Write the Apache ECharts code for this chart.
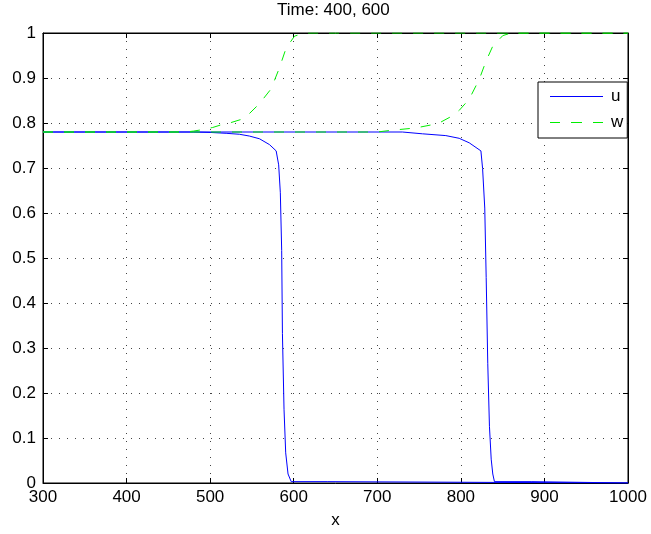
<!DOCTYPE html>
<html>
<head>
<meta charset="utf-8">
<script src="https://cdn.jsdelivr.net/npm/echarts@6/dist/echarts.min.js"></script>
<style>html,body{margin:0;padding:0;background:#fff}#c{width:651px;height:534px}</style>
</head>
<body>
<div id="c"></div>
<script>
var titleText = 'Time: 400, 600';
var xName = 'x';
var xTicks = { min: 300, max: 1000, interval: 100 };
var yTicks = { min: 0, max: 1, interval: 0.1 };

// u at t=400
var xU1 = [300, 480, 500, 520, 535, 547, 559, 571, 579, 582, 584, 585.6, 586.5, 588.4, 590.4, 593.2, 597, 640, 641, 1000];
var yU1 = [0.78, 0.78, 0.779, 0.777, 0.775, 0.771, 0.765, 0.752, 0.738, 0.707, 0.645, 0.517, 0.332, 0.164, 0.067, 0.02, 0.003, 0.003, 0, 0];
// w at t=400
var xW1 = [300, 470, 480, 490, 503, 515, 525, 539, 547, 559, 573, 583, 591, 601, 613, 1000];
var yW1 = [0.78, 0.78, 0.782, 0.785, 0.79, 0.797, 0.801, 0.809, 0.821, 0.843, 0.876, 0.923, 0.967, 0.993, 1, 1];
// u at t=600
var xU2 = [300, 730, 754, 782, 798, 810, 824, 826, 828.6, 830.3, 832.2, 834.2, 836.3, 838.2, 840.2, 885, 886, 1000];
var yU2 = [0.78, 0.78, 0.776, 0.772, 0.766, 0.756, 0.738, 0.699, 0.611, 0.457, 0.265, 0.126, 0.053, 0.02, 0.003, 0.003, 0, 0];
// w at t=600
var xW2 = [300, 700, 718, 746, 768, 776, 790, 798, 810, 822, 830, 838, 850, 860, 1000];
var yW2 = [0.78, 0.78, 0.784, 0.789, 0.797, 0.802, 0.816, 0.828, 0.853, 0.897, 0.937, 0.97, 0.994, 1, 1];

function pairs(xs, ys) { return xs.map(function (x, i) { return [x, ys[i]]; }); }

var FONT = 'Liberation Sans, Arial, Helvetica, sans-serif';
var chart = echarts.init(document.getElementById('c'), null, { renderer: 'canvas' });

var gridLine = { show: true, lineStyle: { color: '#444', width: 1, type: [1, 7] } };
function baseAxis(extra) {
  var a = {
    type: 'value',
    axisLine: { show: true, onZero: false, lineStyle: { color: '#000', width: 1 } },
    axisTick: { show: true, inside: true, length: 5, lineStyle: { color: '#000' } },
    axisLabel: { show: true, color: '#000', fontSize: 17, fontFamily: FONT },
    splitLine: { show: false }
  };
  for (var k in extra) a[k] = extra[k];
  return a;
}

var uStyle = { color: '#0000ff', width: 1, type: 'solid' };
var wStyle = { color: '#00ee00', width: 1, type: [10, 11] };
var solidIcon = 'path://M0,0h53v1h-53z';
var dashIcon = 'path://M0,0h10v1h-10z M21,0h11v1h-11z M43,0h10v1h-10z';

chart.setOption({
  animation: false,
  backgroundColor: '#fff',
  title: {
    text: titleText, left: 277, top: 2, padding: 0,
    textStyle: { fontSize: 17, fontWeight: 'normal', color: '#000', fontFamily: FONT }
  },
  grid: { left: 43, right: 23, top: 33, bottom: 47, show: true, borderColor: '#000', borderWidth: 1, backgroundColor: 'transparent' },
  legend: {
    data: [
      { name: 'u', icon: solidIcon, itemStyle: { color: uStyle.color, borderWidth: 0 } },
      { name: 'w', icon: dashIcon, itemStyle: { color: wStyle.color, borderWidth: 0 } }
    ],
    orient: 'vertical',
    left: 538, top: 82,
    padding: [6, 4, 7, 12],
    itemWidth: 53, itemHeight: 1, itemGap: 9,
    backgroundColor: '#fff', borderColor: '#000', borderWidth: 1, borderRadius: 0,
    textStyle: { fontSize: 17, color: '#000', fontFamily: FONT, padding: [0, 0, 0, 3] }
  },
  xAxis: [
    baseAxis({ min: xTicks.min, max: xTicks.max, interval: xTicks.interval, position: 'bottom',
      name: xName, nameLocation: 'middle', nameGap: 29,
      nameTextStyle: { fontSize: 17, color: '#000', fontFamily: FONT },
      axisLabel: { show: true, color: '#000', fontSize: 17, fontFamily: FONT, margin: 6,
        formatter: function (v) { return String(v); } },
      splitLine: gridLine }),
    baseAxis({ min: xTicks.min, max: xTicks.max, interval: xTicks.interval, position: 'top',
      axisLabel: { show: false } })
  ],
  yAxis: [
    baseAxis({ min: yTicks.min, max: yTicks.max, interval: yTicks.interval, position: 'left',
      axisLabel: { show: true, color: '#000', fontSize: 17, fontFamily: FONT, margin: 7 },
      splitLine: gridLine }),
    baseAxis({ min: yTicks.min, max: yTicks.max, interval: yTicks.interval, position: 'right',
      axisLabel: { show: false } })
  ],
  series: [
    { name: 'u', type: 'line', data: pairs(xU1, yU1), symbol: 'none', lineStyle: uStyle, itemStyle: { color: uStyle.color }, z: 2 },
    { name: 'w', type: 'line', data: pairs(xW1, yW1), symbol: 'none', lineStyle: wStyle, itemStyle: { color: wStyle.color }, z: 3 },
    { name: 'u', type: 'line', data: pairs(xU2, yU2), symbol: 'none', lineStyle: uStyle, itemStyle: { color: uStyle.color }, z: 2 },
    { name: 'w', type: 'line', data: pairs(xW2, yW2), symbol: 'none', lineStyle: wStyle, itemStyle: { color: wStyle.color }, z: 3 }
  ]
});
</script>
</body>
</html>
